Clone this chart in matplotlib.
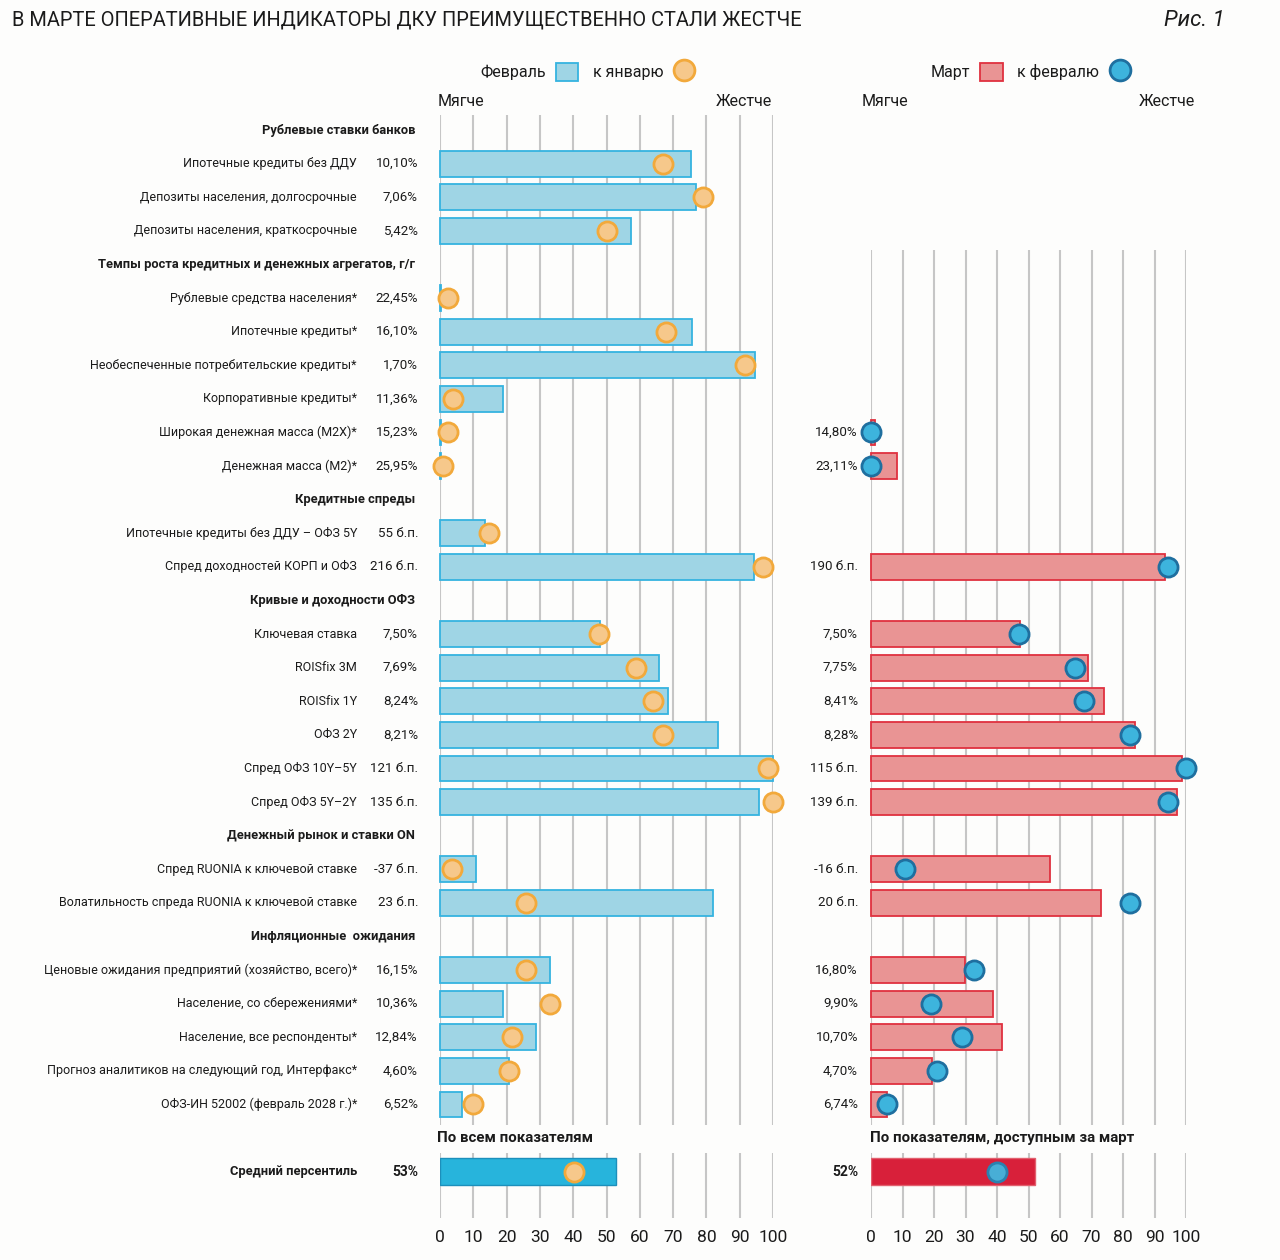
import matplotlib
matplotlib.use("Agg")
import matplotlib.pyplot as plt
from matplotlib.patches import Patch
from matplotlib.lines import Line2D
from matplotlib.transforms import blended_transform_factory
from matplotlib import font_manager

plt.rcParams['font.family'] = ['Roboto', 'DejaVu Sans']

# ---------------- data ----------------
TITLE = "В МАРТЕ ОПЕРАТИВНЫЕ ИНДИКАТОРЫ ДКУ ПРЕИМУЩЕСТВЕННО СТАЛИ ЖЕСТЧЕ"
FIG_LABEL = "Рис. 1"

section_titles = [
    "Рублевые ставки банков",
    "Темпы роста кредитных и денежных агрегатов, г/г",
    "Кредитные спреды",
    "Кривые и доходности ОФЗ",
    "Денежный рынок и ставки ON",
    "Инфляционные  ожидания",
]
section_sizes = [3, 6, 2, 6, 2, 5]

categories = [
    "Ипотечные кредиты без ДДУ",
    "Депозиты населения, долгосрочные",
    "Депозиты населения, краткосрочные",
    "Рублевые средства населения*",
    "Ипотечные кредиты*",
    "Необеспеченные потребительские кредиты*",
    "Корпоративные кредиты*",
    "Широкая денежная масса (М2Х)*",
    "Денежная масса (М2)*",
    "Ипотечные кредиты без ДДУ – ОФЗ 5Y",
    "Спред доходностей КОРП и ОФЗ",
    "Ключевая ставка",
    "ROISfix 3M",
    "ROISfix 1Y",
    "ОФЗ 2Y",
    "Спред ОФЗ 10Y–5Y",
    "Спред ОФЗ 5Y–2Y",
    "Спред RUONIA к ключевой ставке",
    "Волатильность спреда RUONIA к ключевой ставке",
    "Ценовые ожидания предприятий (хозяйство, всего)*",
    "Население, со сбережениями*",
    "Население, все респонденты*",
    "Прогноз аналитиков на следующий год, Интерфакс*",
    "ОФЗ-ИН 52002 (февраль 2028 г.)*",
]

feb_labels = ["10,10%", "7,06%", "5,42%", "22,45%", "16,10%", "1,70%", "11,36%",
              "15,23%", "25,95%", "55 б.п.", "216 б.п.", "7,50%", "7,69%", "8,24%",
              "8,21%", "121 б.п.", "135 б.п.", "-37 б.п.", "23 б.п.", "16,15%",
              "10,36%", "12,84%", "4,60%", "6,52%"]
# percentile in February (bars) and January (dots)
feb_pct = [75.4, 76.8, 57.5, 0.4, 75.6, 94.6, 19.0, 0.4, 0.4, 13.5, 94.4, 48.0,
           65.8, 68.5, 83.6, 100.0, 95.9, 10.8, 82.0, 32.9, 18.8, 28.9, 20.7, 6.6]
jan_pct = [67.0, 79.0, 50.3, 2.5, 68.0, 91.6, 3.8, 2.5, 1.0, 14.8, 96.9, 47.8,
           58.8, 64.0, 67.0, 98.4, 99.9, 3.7, 25.7, 25.8, 33.0, 21.5, 20.6, 10.0]

mar_labels = [None] * 7 + ["14,80%", "23,11%", None, "190 б.п.", "7,50%", "7,75%",
                           "8,41%", "8,28%", "115 б.п.", "139 б.п.", "-16 б.п.",
                           "20 б.п.", "16,80%", "9,90%", "10,70%", "4,70%", "6,74%"]
# percentile in March (bars) and February (dots)
mar_pct = [None] * 7 + [1.4, 8.3, None, 93.2, 47.2, 68.9, 74.1, 83.7, 98.7, 97.1,
                        56.7, 73.0, 29.8, 38.7, 41.5, 19.3, 5.2]
febr_pct = [None] * 7 + [0.0, 0.0, None, 94.4, 47.1, 64.8, 67.5, 82.3, 100.0, 94.4,
                         10.7, 82.3, 32.7, 19.0, 28.9, 20.9, 5.2]

mean_label = "Средний персентиль"
mean_feb, mean_jan = 53, 40.3
mean_mar, mean_febr = 52.2, 40.0
mean_feb_label, mean_mar_label = "53%", "52%"
summary_left = "По всем показателям"
summary_right = "По показателям, доступным за март"

ticks = list(range(0, 101, 10))

# ---------------- styles ----------------
TXT = "#1b1b1b"
GRID = "#c6c6c6"
FEB_FILL, FEB_EDGE = "#9fd5e5", "#35b3e0"
JAN_FILL, JAN_EDGE = "#f6c88b", "#f2a93b"
MAR_FILL, MAR_EDGE = "#e99494", "#e0313f"
FD_FILL, FD_EDGE = "#3db4dd", "#1f6f9f"
MEAN_FEB, MEAN_FEB_EDGE = "#27b4dc", "#1c8fbb"
MEAN_MAR, MEAN_MAR_EDGE = "#d8203a", "#e2606e"
BG = "#fdfdfc"

W, H = 1280, 1260
fig = plt.figure(figsize=(W / 100, H / 100), dpi=100, facecolor=BG)


def fx(px):
    return px / W


def fy(py):
    return 1 - py / H


# row layout
header_rows, rows = [], []
pos = 0
for n in section_sizes:
    header_rows.append(pos)
    pos += 1
    rows.extend(range(pos, pos + n))
    pos += n
summary_row = pos
mean_row = pos + 1

Y_TOP, Y_BOT = -0.45, 32.38
GAP_A, GAP_B = 29.6, 30.45
AX_TOP, AX_BOT = 115, 1218

axL = fig.add_axes([fx(440), fy(AX_BOT), fx(773) - fx(440), fy(AX_TOP) - fy(AX_BOT)])
axR = fig.add_axes([fx(871), fy(AX_BOT), fx(1186) - fx(871), fy(AX_TOP) - fy(AX_BOT)])

for ax in (axL, axR):
    ax.set_xlim(0, 100)
    ax.set_ylim(Y_BOT, Y_TOP)
    ax.set_facecolor("none")
    for s in ax.spines.values():
        s.set_visible(False)
    ax.set_yticks([])
    ax.set_xticks(ticks)
    ax.set_xticklabels([str(t) for t in ticks])
    ax.tick_params(axis="x", length=0, pad=9, labelsize=12.5, labelcolor=TXT)
    ax.vlines(ticks, GAP_B, Y_BOT, color=GRID, lw=1.5, zorder=1)

axL.vlines(ticks, Y_TOP, GAP_A, color=GRID, lw=1.5, zorder=1)
axR.vlines(ticks, 3.57, GAP_A, color=GRID, lw=1.5, zorder=1)

BAR_H = 0.77
DOT_S = 190

# left panel (February vs January)
axL.barh(rows, feb_pct, height=BAR_H, color=FEB_FILL, edgecolor=FEB_EDGE,
         linewidth=1.3, zorder=2, clip_on=False)
axL.scatter(jan_pct, rows, s=DOT_S, c=JAN_FILL, edgecolors=JAN_EDGE,
            linewidths=2, zorder=3, clip_on=False)
axL.barh([mean_row], [mean_feb], height=0.8, color=MEAN_FEB, edgecolor=MEAN_FEB_EDGE,
         linewidth=1.0, zorder=2)
axL.scatter([mean_jan], [mean_row], s=DOT_S, c=JAN_FILL, edgecolors=JAN_EDGE,
            linewidths=2, zorder=3)

# right panel (March vs February)
r_rows = [r for r, v in zip(rows, mar_pct) if v is not None]
r_vals = [v for v in mar_pct if v is not None]
r_dots = [v for v in febr_pct if v is not None]
axR.barh(r_rows, r_vals, height=BAR_H, color=MAR_FILL, edgecolor=MAR_EDGE,
         linewidth=1.3, zorder=2, clip_on=False)
axR.scatter(r_dots, r_rows, s=DOT_S, c=FD_FILL, edgecolors=FD_EDGE,
            linewidths=2, zorder=3, clip_on=False)
axR.barh([mean_row], [mean_mar], height=0.8, color=MEAN_MAR, edgecolor=MEAN_MAR_EDGE,
         linewidth=1.0, zorder=2)
axR.scatter([mean_febr], [mean_row], s=DOT_S, c="#48aed6", edgecolors="#2a82b0",
            linewidths=2, zorder=3)

# texts
tL = blended_transform_factory(fig.transFigure, axL.transData)
LBL_FS = 9.0
VAL_FS = 9.6
HDR_FS = 9.3
for r, cat, lab in zip(rows, categories, feb_labels):
    axL.text(fx(357), r, cat, transform=tL, ha="right", va="center", fontsize=LBL_FS, color=TXT)
    axL.text(fx(418), r, lab, transform=tL, ha="right", va="center", fontsize=VAL_FS, color=TXT)
for r, t in zip(header_rows, section_titles):
    axL.text(fx(415), r, t, transform=tL, ha="right", va="center", fontsize=HDR_FS,
             fontweight="bold", color=TXT)
for r, lab in zip(rows, mar_labels):
    if lab is not None:
        axL.text(fx(858), r, lab, transform=tL, ha="right", va="center", fontsize=VAL_FS, color=TXT)

axL.text(fx(357), mean_row, mean_label, transform=tL, ha="right", va="center",
         fontsize=HDR_FS, fontweight="bold", color=TXT)
axL.text(fx(418), mean_row, mean_feb_label, transform=tL, ha="right", va="center",
         fontsize=10, fontweight="bold", color=TXT)
axL.text(fx(858), mean_row, mean_mar_label, transform=tL, ha="right", va="center",
         fontsize=10, fontweight="bold", color=TXT)
axL.text(fx(437), summary_row, summary_left, transform=tL, ha="left", va="center",
         fontsize=10.8, fontweight="bold", color=TXT)
axL.text(fx(870), summary_row, summary_right, transform=tL, ha="left", va="center",
         fontsize=10.8, fontweight="bold", color=TXT)

# soft / hard labels
for xl, xr in ((438, 772), (862, 1195)):
    fig.text(fx(xl), fy(101), "Мягче", ha="left", va="center", fontsize=11.5, color=TXT)
    fig.text(fx(xr), fy(101), "Жестче", ha="right", va="center", fontsize=11.5, color=TXT)

# legends
legL = axL.legend(
    handles=[Patch(facecolor=FEB_FILL, edgecolor=FEB_EDGE, linewidth=1.3),
             Line2D([], [], marker="o", ls="none", ms=15, mfc=JAN_FILL, mec=JAN_EDGE, mew=2)],
    labels=["Февраль", "к январю"], ncol=2, markerfirst=False, frameon=False,
    loc="center", bbox_to_anchor=(fx(588), fy(72)), bbox_transform=fig.transFigure,
    fontsize=11.5, handlelength=1.4, handleheight=1.4, handletextpad=0.6,
    columnspacing=0.9, labelcolor=TXT)
legR = axR.legend(
    handles=[Patch(facecolor=MAR_FILL, edgecolor=MAR_EDGE, linewidth=1.3),
             Line2D([], [], marker="o", ls="none", ms=15, mfc=FD_FILL, mec=FD_EDGE, mew=2)],
    labels=["Март", "к февралю"], ncol=2, markerfirst=False, frameon=False,
    loc="center", bbox_to_anchor=(fx(1031), fy(72)), bbox_transform=fig.transFigure,
    fontsize=11.5, handlelength=1.4, handleheight=1.4, handletextpad=0.6,
    columnspacing=0.9, labelcolor=TXT)

# title
names = {f.name for f in font_manager.fontManager.ttflist}
title_family = ["Liberation Sans Narrow", "DejaVu Sans"] if "Liberation Sans Narrow" in names \
    else ["Roboto", "DejaVu Sans"]
title = fig.text(fx(12), fy(20), TITLE, fontsize=17, ha="left", va="center",
                 color=TXT, family=title_family)
fig.text(fx(1225), fy(20), FIG_LABEL, fontsize=16, ha="right", va="center",
         color=TXT, style="italic")
fig.canvas.draw()
w = title.get_window_extent().width
title.set_fontsize(17 * 791 / w)

fig.savefig("out.png", dpi=100, facecolor=BG)
